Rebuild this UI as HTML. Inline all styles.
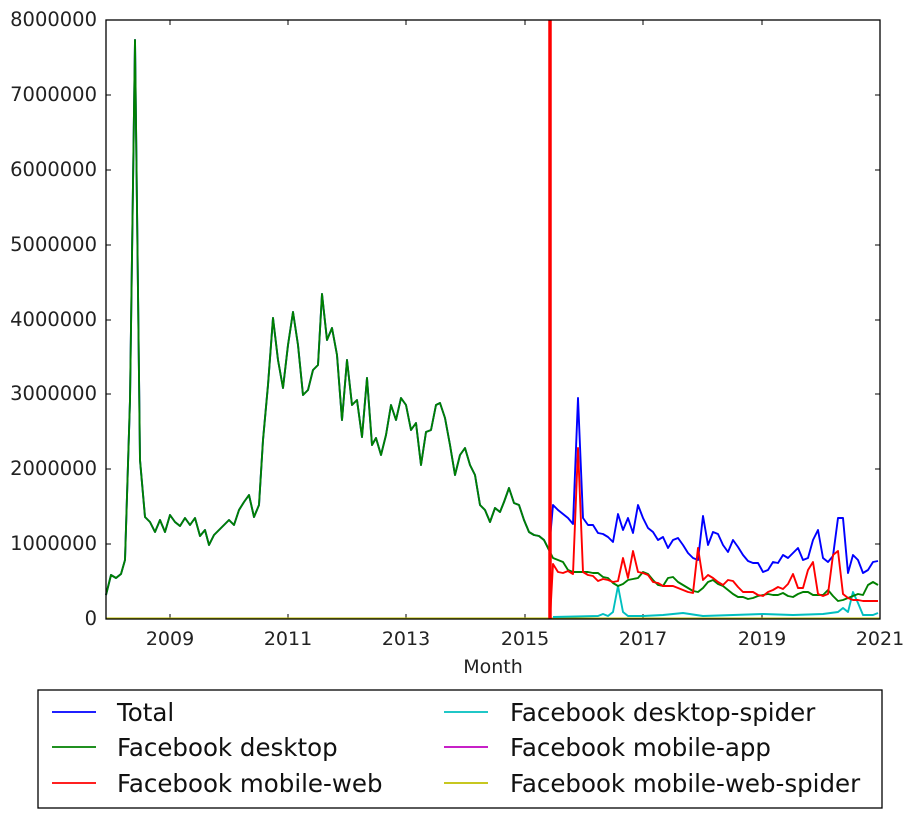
<!DOCTYPE html>
<html><head><meta charset="utf-8"><style>
html,body{margin:0;padding:0;background:#fff;}
svg{display:block;font-family:"DejaVu Sans","Liberation Sans",sans-serif;}
</style></head><body>
<svg width="914" height="814" viewBox="0 0 914 814" xmlns="http://www.w3.org/2000/svg">
<rect width="914" height="814" fill="#fff"/>
<g font-size="19.5" fill="#222" text-anchor="end">
<text x="97" y="26">8000000</text>
<text x="97" y="101">7000000</text>
<text x="97" y="176">6000000</text>
<text x="97" y="251">5000000</text>
<text x="97" y="326">4000000</text>
<text x="97" y="400">3000000</text>
<text x="97" y="475">2000000</text>
<text x="97" y="550">1000000</text>
<text x="97" y="625">0</text>
</g>
<g font-size="19" fill="#222" text-anchor="middle">
<text x="170" y="645">2009</text>
<text x="288" y="645">2011</text>
<text x="406" y="645">2013</text>
<text x="525" y="645">2015</text>
<text x="643" y="645">2017</text>
<text x="762" y="645">2019</text>
<text x="880" y="645">2021</text>
<text x="493" y="673">Month</text>
</g>
<g stroke="#000" stroke-width="1">
<path d="M106 95h5M106 170h5M106 245h5M106 320h5M106 394h5M106 469h5M106 544h5M880 95h-5M880 170h-5M880 245h-5M880 320h-5M880 394h-5M880 469h-5M880 544h-5M170 619v-5M288 619v-5M406 619v-5M525 619v-5M643 619v-5M762 619v-5M170 20v5M288 20v5M406 20v5M525 20v5M643 20v5M762 20v5"/>
</g>
<g fill="none" stroke-width="1.9" stroke-linejoin="round">
<polyline stroke="#bfbf00" points="106,618.5 880,618.5"/>
<polyline stroke="#00bfbf" points="553,617 598,616 603,614 608,616 613,612 618,586 623,612 628,616 643,616 663,615 683,613 703,616 733,615 763,614 793,615 823,614 838,612 843,608 848,612 853,592 858,603 863,615 873,615 878,613"/>
<polyline stroke="#0000ff" points="106,595 111,575 116,578 121,574 125,560 130,400 135,40 140,460 145,517 150,522 155,532 160,520 165,532 170,515 175,522 180,526 185,518 190,525 195,518 200,536 205,530 209,545 214,535 219,530 224,525 229,520 234,525 239,510 244,502 249,495 254,517 259,505 263,440 268,385 273,318 278,360 283,388 288,345 293,312 298,345 303,395 308,390 313,370 318,365 322,294 327,340 332,328 337,355 342,420 347,360 352,405 357,400 362,437 367,378 372,445 376,438 381,455 386,435 391,405 396,420 401,398 406,405 411,430 416,423 421,465 426,432 431,430 436,405 440,403 445,418 450,445 455,475 460,455 465,448 470,465 475,475 480,505 485,510 490,522 495,508 500,512 504,502 509,488 514,503 519,505 524,520 529,532 534,535 539,536 544,540 549,550 553,505 558,510 563,514 568,518 573,524 578,398 583,518 588,525 593,525 598,533 603,534 608,537 613,542 618,514 623,530 628,518 633,533 638,505 643,518 648,528 653,532 658,540 663,537 668,548 673,540 678,538 683,545 688,553 693,558 698,560 703,516 708,545 713,532 718,534 723,545 728,552 733,540 738,547 743,555 748,561 753,563 758,563 763,572 768,570 773,562 778,563 783,555 788,558 793,553 798,548 803,560 808,558 813,540 818,530 823,558 828,562 833,556 838,518 843,518 848,573 853,555 858,560 863,573 868,570 873,562 878,561"/>
<polyline stroke="#008000" points="106,595 111,575 116,578 121,574 125,560 130,400 135,40 140,460 145,517 150,522 155,532 160,520 165,532 170,515 175,522 180,526 185,518 190,525 195,518 200,536 205,530 209,545 214,535 219,530 224,525 229,520 234,525 239,510 244,502 249,495 254,517 259,505 263,440 268,385 273,318 278,360 283,388 288,345 293,312 298,345 303,395 308,390 313,370 318,365 322,294 327,340 332,328 337,355 342,420 347,360 352,405 357,400 362,437 367,378 372,445 376,438 381,455 386,435 391,405 396,420 401,398 406,405 411,430 416,423 421,465 426,432 431,430 436,405 440,403 445,418 450,445 455,475 460,455 465,448 470,465 475,475 480,505 485,510 490,522 495,508 500,512 504,502 509,488 514,503 519,505 524,520 529,532 534,535 539,536 544,540 549,550 553,558 558,560 563,562 568,570 573,572 578,572 583,572 588,572 593,573 598,573 603,577 608,578 613,583 618,586 623,584 628,580 633,579 638,578 643,572 648,574 653,580 658,585 663,586 668,578 673,577 678,582 683,585 688,588 693,591 698,592 703,588 708,582 713,580 718,584 723,586 728,590 733,594 738,597 743,597 748,599 753,598 758,596 763,595 768,594 773,595 778,595 783,593 788,596 793,597 798,594 803,592 808,592 813,595 818,595 823,595 828,590 833,596 838,601 843,600 848,598 853,596 858,594 863,595 868,585 873,582 878,585"/>
<polyline stroke="#ff0000" points="550,619 553,564 558,572 563,573 568,571 573,574 578,448 583,572 588,575 593,576 598,581 603,579 608,580 613,582 618,581 623,558 628,578 633,551 638,572 643,573 648,575 653,582 658,583 663,586 668,586 673,586 678,588 683,590 688,592 693,593 698,548 703,580 708,575 713,578 718,582 723,585 728,580 733,581 738,587 743,592 748,592 753,592 758,595 763,596 768,592 773,590 778,587 783,589 788,584 793,574 798,588 803,588 808,570 813,562 818,594 823,596 828,594 833,555 838,551 843,594 848,598 853,600 858,600 863,601 878,601"/>
</g>
<line x1="550" y1="20" x2="550" y2="619" stroke="#ff0000" stroke-width="3.5"/>
<rect x="106" y="20" width="774" height="599" fill="none" stroke="#000" stroke-width="1.3"/>
<rect x="38" y="690" width="844" height="118" fill="#fff" stroke="#000" stroke-width="1.3"/>
<g stroke-width="1.8">
<line x1="52" y1="712" x2="96" y2="712" stroke="#0000ff"/>
<line x1="52" y1="747" x2="96" y2="747" stroke="#008000"/>
<line x1="52" y1="783" x2="96" y2="783" stroke="#ff0000"/>
<line x1="444" y1="712" x2="488" y2="712" stroke="#00bfbf"/>
<line x1="444" y1="747" x2="488" y2="747" stroke="#bf00bf"/>
<line x1="444" y1="783" x2="488" y2="783" stroke="#bfbf00"/>
</g>
<g font-size="24.5" fill="#111">
<text x="117" y="721">Total</text>
<text x="117" y="756">Facebook desktop</text>
<text x="117" y="792">Facebook mobile-web</text>
<text x="510" y="721">Facebook desktop-spider</text>
<text x="510" y="756">Facebook mobile-app</text>
<text x="510" y="792">Facebook mobile-web-spider</text>
</g>
</svg>
</body></html>
